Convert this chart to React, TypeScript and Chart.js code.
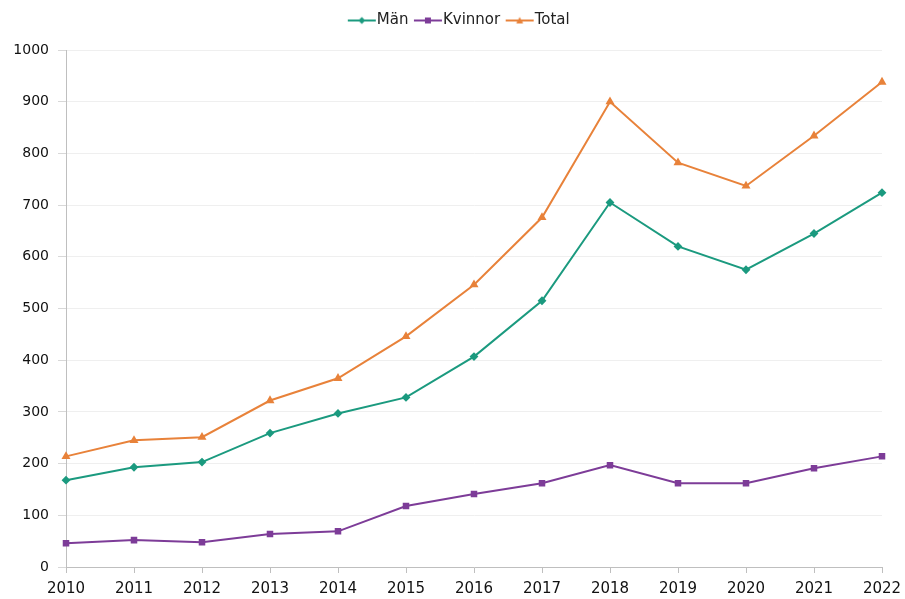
import React, { useEffect, useRef } from "react";
import { Chart, registerables } from "chart.js";
Chart.register(...registerables);

const years = ["2010","2011","2012","2013","2014","2015","2016","2017","2018","2019","2020","2021","2022"];
const man = [168,193,203,259,297,328,407,515,705,620,575,645,724];
const kvinnor = [46,52,48,64,69,118,141,162,197,162,162,191,214];
const total = [214,245,251,322,365,446,546,676,900,782,737,834,938];

const cMan = "#1b9a7f";
const cKv = "#7d3c98";
const cTot = "#e8823a";

function legendIcon(color: string, shape: string): HTMLCanvasElement {
  const dpr = window.devicePixelRatio || 1;
  const w = 30, h = 10;
  const c = document.createElement("canvas");
  c.width = w * dpr; c.height = h * dpr;
  c.style.width = w + "px"; c.style.height = h + "px";
  const ctx = c.getContext("2d")!;
  ctx.scale(dpr, dpr);
  ctx.strokeStyle = color; ctx.fillStyle = color; ctx.lineWidth = 2;
  ctx.beginPath(); ctx.moveTo(1, h / 2); ctx.lineTo(w - 1, h / 2); ctx.stroke();
  const cx = w / 2, cy = h / 2;
  ctx.beginPath();
  if (shape === "rect") { ctx.rect(cx - 3, cy - 3, 6, 6); }
  else if (shape === "triangle") { ctx.moveTo(cx, cy - 3.5); ctx.lineTo(cx + 3.5, cy + 3); ctx.lineTo(cx - 3.5, cy + 3); ctx.closePath(); }
  else { ctx.moveTo(cx, cy - 3.5); ctx.lineTo(cx + 3.5, cy); ctx.lineTo(cx, cy + 3.5); ctx.lineTo(cx - 3.5, cy); ctx.closePath(); }
  ctx.fill();
  return c;
}

const legendSpacer = {
  id: "legendSpacer",
  beforeInit(chart: any) {
    const orig = chart.legend.fit;
    chart.legend.fit = function () {
      orig.call(this);
      this.height += 12;
    };
  },
  afterLayout(chart: any) {
    chart.legend.left += 40;
    chart.legend.right += 2;
  },
};

export default function App() {
  const ref = useRef<HTMLCanvasElement>(null);
  useEffect(() => {
    document.body.style.margin = "0";
    const font = { family: "'DejaVu Sans', Verdana, sans-serif", size: 14 };
    const chart = new Chart(ref.current!, {
      type: "line",
      data: {
        labels: years,
        datasets: [
          { label: "Män", data: man, borderColor: cMan, backgroundColor: cMan, pointStyle: "rectRot", pointRadius: 3, borderWidth: 2, tension: 0 },
          { label: "Kvinnor", data: kvinnor, borderColor: cKv, backgroundColor: cKv, pointStyle: "rect", pointRadius: 3.2, borderWidth: 2, tension: 0 },
          { label: "Total", data: total, borderColor: cTot, backgroundColor: cTot, pointStyle: "triangle", pointRadius: 3.2, borderWidth: 2, tension: 0 },
        ],
      },
      plugins: [legendSpacer],
      options: {
        animation: false,
        responsive: false,
        devicePixelRatio: window.devicePixelRatio || 1,
        layout: { padding: { left: 0, right: 23, top: 1, bottom: 0 } },
        plugins: {
          legend: {
            position: "top",
            labels: {
              font: { ...font, size: 15 }, color: "#222",
              usePointStyle: true,
              boxWidth: 30,
              padding: 12,
              generateLabels: (ch: any) => ch.data.datasets.map((d: any, i: number) => ({
                text: d.label,
                pointStyle: legendIcon(d.borderColor, d.pointStyle),
                fillStyle: d.borderColor,
                strokeStyle: d.borderColor,
                fontColor: "#222",
                lineWidth: 0,
                hidden: false,
                datasetIndex: i,
              })),
            },
          },
          tooltip: { enabled: false },
        },
        scales: {
          x: {
            offset: false,
            grid: { display: true, drawOnChartArea: false, drawTicks: true, tickLength: 6, color: "#bfbfbf" },
            border: { color: "#bfbfbf" },
            ticks: { font: { ...font, size: 15 }, color: "#111", maxRotation: 0, autoSkip: false, padding: 7 },
            afterFit: (s: any) => { s.height = 32; s.paddingRight = 0; s.paddingLeft = 0; },
          },
          y: {
            min: 0, max: 1000,
            grid: { color: "#efefef", tickLength: 8, tickColor: "#d8d8d8" },
            border: { color: "#bfbfbf" },
            ticks: { stepSize: 100, font, color: "#111", padding: 9, callback: (v: any) => String(v) },
            afterFit: (s: any) => { s.width = 66; s.paddingTop = 0; s.paddingBottom = 0; },
          },
        },
      } as any,
    });
    return () => chart.destroy();
  }, []);
  return <canvas ref={ref} width={905} height={599} style={{ display: "block", width: 905, height: 599 }} />;
}
